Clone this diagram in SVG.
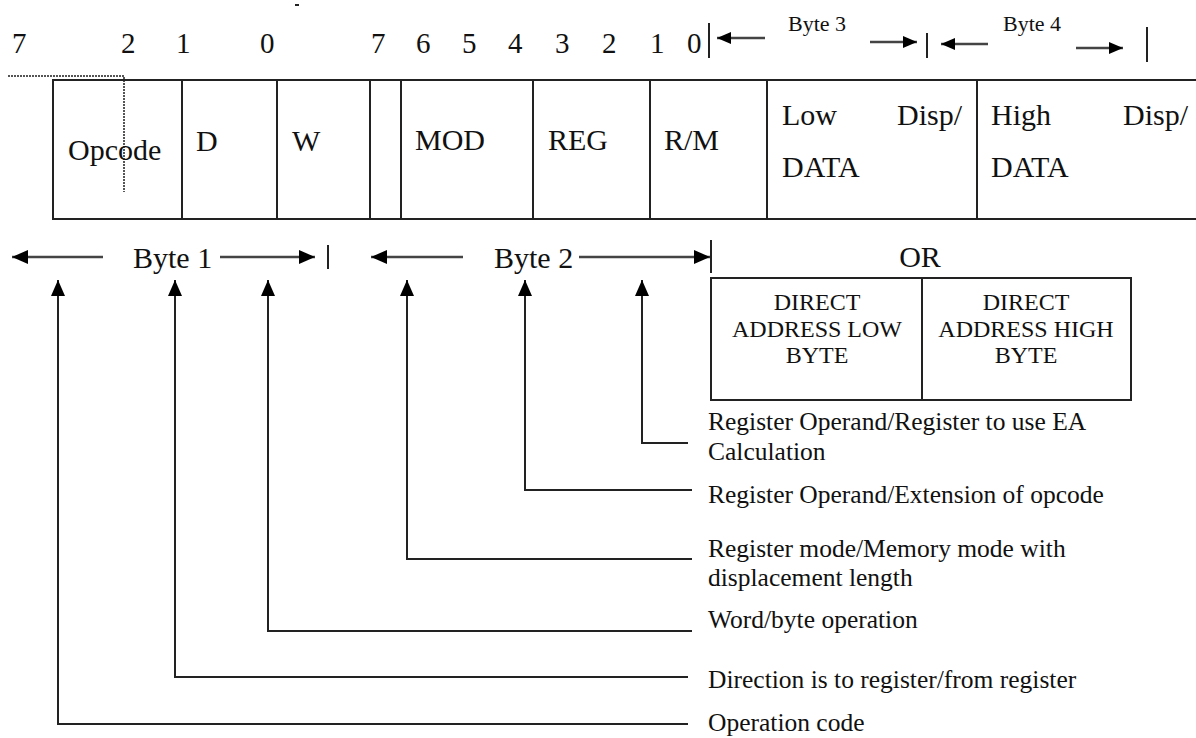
<svg xmlns="http://www.w3.org/2000/svg" width="1196" height="738" viewBox="0 0 1196 738">
<style>
.t{font-family:"Liberation Serif","Times New Roman",serif;fill:#111}
.num{font-size:29px}
.cell{font-size:30px}
.sm{font-size:22px}
.lbl{font-size:25.5px}
.da{font-size:24px;text-anchor:middle}
.box{fill:none;stroke:#222;stroke-width:2}
.ln{fill:none;stroke:#222;stroke-width:2}
.ar{fill:none;stroke:#444;stroke-width:2.5}
.dot{fill:none;stroke:#555;stroke-width:2;stroke-dasharray:2 1}
</style>
<defs>
<marker id="ah" viewBox="0 0 16 14" refX="16" refY="7" markerWidth="16" markerHeight="14" markerUnits="userSpaceOnUse" orient="auto-start-reverse"><path d="M0,0 L16,7 L0,14 z" fill="#000"/></marker>
<marker id="ahs" viewBox="0 0 14 12" refX="14" refY="6" markerWidth="14" markerHeight="12" markerUnits="userSpaceOnUse" orient="auto-start-reverse"><path d="M0,0 L14,6 L0,12 z" fill="#000"/></marker>
</defs>
<rect width="1196" height="738" fill="#fff"/>
<line x1="295" y1="5" x2="299" y2="5" stroke="#222" stroke-width="2"/>
<g id="bit-numbers" class="t num">
<text x="12" y="53">7</text><text x="121" y="53">2</text><text x="176" y="53">1</text><text x="260" y="53">0</text>
<text x="371" y="53">7</text><text x="416" y="53">6</text><text x="462" y="53">5</text><text x="508" y="53">4</text>
<text x="555" y="53">3</text><text x="602" y="53">2</text><text x="650" y="53">1</text><text x="687" y="53">0</text>
</g>
<g id="byte-3-4-span">
<line class="ln" x1="709" y1="23" x2="709" y2="58"/>
<line class="ar" x1="765" y1="38" x2="717" y2="38" marker-end="url(#ahs)"/>
<text class="t sm" x="788" y="31">Byte 3</text>
<line class="ar" x1="870" y1="42" x2="917" y2="42" marker-end="url(#ahs)"/>
<line class="ln" x1="927" y1="33" x2="927" y2="58"/>
<line class="ar" x1="988" y1="44" x2="941" y2="44" marker-end="url(#ahs)"/>
<text class="t sm" x="1003" y="31">Byte 4</text>
<line class="ar" x1="1076" y1="48" x2="1123" y2="48" marker-end="url(#ahs)"/>
<line class="ln" x1="1147" y1="27" x2="1147" y2="62"/>
</g>
<path class="dot" d="M8,76 H124 V192"/>
<g id="opcode"><rect class="box" x="53" y="80" width="129" height="139"/><text class="t cell" x="68" y="160">Opcode</text></g>
<g id="d"><rect class="box" x="182" y="80" width="95" height="139"/><text class="t cell" x="196" y="151">D</text></g>
<g id="w"><rect class="box" x="277" y="80" width="93" height="139"/><text class="t cell" x="292" y="151">W</text></g>
<g id="gap"><rect class="box" x="370" y="80" width="31" height="139"/></g>
<g id="mod"><rect class="box" x="401" y="80" width="132" height="139"/><text class="t cell" x="415" y="150">MOD</text></g>
<g id="reg"><rect class="box" x="533" y="80" width="117" height="139"/><text class="t cell" x="548" y="150">REG</text></g>
<g id="rm"><rect class="box" x="650" y="80" width="117" height="139"/><text class="t cell" x="664" y="150">R/M</text></g>
<g id="low-disp"><rect class="box" x="767" y="80" width="210" height="139"/><text class="t cell" x="782" y="125">Low</text><text class="t cell" x="897" y="125">Disp/</text><text class="t cell" x="782" y="177">DATA</text></g>
<g id="high-disp"><rect class="box" x="977" y="80" width="230" height="139"/><text class="t cell" x="991" y="125">High</text><text class="t cell" x="1123" y="125">Disp/</text><text class="t cell" x="991" y="177">DATA</text></g>
<g id="byte-1-2-span">
<line class="ar" x1="103" y1="257" x2="12" y2="257" marker-end="url(#ah)"/>
<text class="t cell" x="133" y="268">Byte 1</text>
<line class="ar" x1="220" y1="257" x2="315" y2="257" marker-end="url(#ah)"/>
<line class="ln" x1="328" y1="245" x2="328" y2="269"/>
<line class="ar" x1="463" y1="257" x2="371" y2="257" marker-end="url(#ah)"/>
<text class="t cell" x="494" y="268">Byte 2</text>
<line class="ar" x1="579" y1="257" x2="710" y2="257" marker-end="url(#ah)"/>
<line class="ln" x1="711" y1="240" x2="711" y2="273"/>
<text class="t cell" x="920" y="267" text-anchor="middle">OR</text>
</g>
<g id="direct-low"><rect class="box" x="711" y="278" width="211" height="122"/><text class="t da" x="817" y="310">DIRECT</text><text class="t da" x="817" y="337">ADDRESS LOW</text><text class="t da" x="817" y="363">BYTE</text></g>
<g id="direct-high"><rect class="box" x="922" y="278" width="209" height="122"/><text class="t da" x="1026" y="310">DIRECT</text><text class="t da" x="1026" y="337">ADDRESS HIGH</text><text class="t da" x="1026" y="363">BYTE</text></g>
<g id="connectors">
<path class="ln" d="M642,280 V443 H688" marker-start="url(#ah)"/>
<path class="ln" d="M525,280 V490 H692" marker-start="url(#ah)"/>
<path class="ln" d="M407,280 V559 H692" marker-start="url(#ah)"/>
<path class="ln" d="M268,280 V631 H692" marker-start="url(#ah)"/>
<path class="ln" d="M175,280 V677 H688" marker-start="url(#ah)"/>
<path class="ln" d="M58,280 V724 H688" marker-start="url(#ah)"/>
</g>
<g id="labels" class="t lbl">
<text x="708" y="430">Register Operand/Register to use EA</text>
<text x="708" y="460">Calculation</text>
<text x="708" y="503">Register Operand/Extension of opcode</text>
<text x="708" y="557">Register mode/Memory mode with</text>
<text x="708" y="586">displacement length</text>
<text x="708" y="628">Word/byte operation</text>
<text x="708" y="688">Direction is to register/from register</text>
<text x="708" y="731">Operation code</text>
</g>
</svg>
